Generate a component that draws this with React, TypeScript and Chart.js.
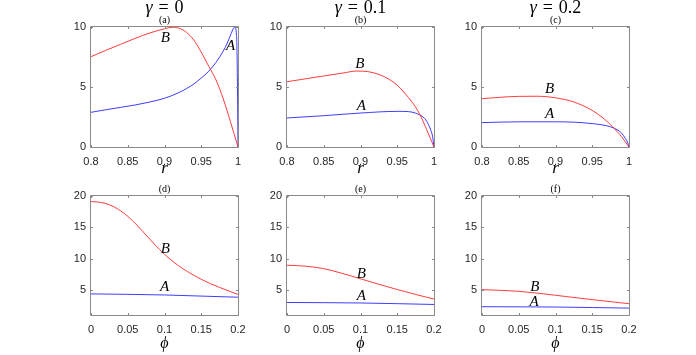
import React, { useEffect, useRef } from "react";
import { Chart, registerables } from "chart.js";
Chart.register(...registerables);

const PAGE_W = 696;
const PAGE_H = 355;

// ---- text / ticks ----
const gammaValues = ["0", "0.1", "0.2"];
const panelLetters = ["(a)", "(b)", "(c)", "(d)", "(e)", "(f)"];
const rTicks = [0.8, 0.85, 0.9, 0.95, 1];
const phiTicks = [0, 0.05, 0.1, 0.15, 0.2];
const rYTicks = [0, 5, 10];
const phiYTicks = [5, 10, 15, 20];

// ---- panel (a): gamma = 0, vs r ----
const aRedX = [0.8, 0.82, 0.84, 0.86, 0.88, 0.9, 0.91, 0.92, 0.93, 0.94, 0.95, 0.96, 0.97, 0.98, 0.99, 1.0];
const aRedY = [7.53, 8.05, 8.55, 9.05, 9.5, 9.85, 9.97, 9.9, 9.55, 8.9, 7.9, 6.75, 5.6, 4.0, 2.05, 0];
const aBlueX = [0.8, 0.82, 0.84, 0.86, 0.88, 0.9, 0.92, 0.94, 0.95, 0.96, 0.97, 0.98, 0.985, 0.99, 0.9955, 0.998, 0.9993, 1.0];
const aBlueY = [2.89, 3.1, 3.3, 3.5, 3.75, 4.06, 4.55, 5.25, 5.75, 6.3, 7.05, 8.0, 8.6, 9.35, 10.0, 9.3, 5.0, 0];

// ---- panel (b): gamma = 0.1, vs r ----
const bRedX = [0.8, 0.825, 0.85, 0.875, 0.895, 0.91, 0.925, 0.94, 0.95, 0.96, 0.97, 0.98, 0.99, 1.0];
const bRedY = [5.44, 5.68, 5.92, 6.15, 6.33, 6.28, 6.05, 5.6, 5.15, 4.5, 3.75, 2.8, 1.45, 0];
const bBlueX = [0.8, 0.85, 0.9, 0.95, 0.965, 0.975, 0.985, 0.99, 0.995, 0.998, 1.0];
const bBlueY = [2.42, 2.61, 2.83, 2.97, 2.95, 2.82, 2.5, 2.15, 1.5, 0.9, 0];

// ---- panel (c): gamma = 0.2, vs r ----
const cRedX = [0.8, 0.85, 0.875, 0.9, 0.925, 0.95, 0.965, 0.975, 0.985, 0.99, 1.0];
const cRedY = [4.03, 4.22, 4.23, 4.1, 3.75, 3.05, 2.4, 1.85, 1.2, 0.85, 0];
const cBlueX = [0.8, 0.85, 0.9, 0.95, 0.975, 0.985, 0.99, 0.995, 0.998, 1.0];
const cBlueY = [2.03, 2.1, 2.1, 1.95, 1.68, 1.4, 1.15, 0.72, 0.4, 0];

// ---- panel (d): gamma = 0, vs phi ----
const dRedX = [0, 0.0125, 0.025, 0.0375, 0.05, 0.0625, 0.075, 0.0875, 0.1, 0.1125, 0.125, 0.1375, 0.15, 0.1625, 0.175, 0.1875, 0.2];
const dRedY = [19.1, 19.0, 18.6, 17.85, 16.75, 15.35, 13.75, 12.15, 10.7, 9.45, 8.4, 7.5, 6.7, 6.0, 5.4, 4.83, 4.28];
const dBlueX = [0, 0.05, 0.1, 0.15, 0.2];
const dBlueY = [4.37, 4.3, 4.2, 4.02, 3.84];

// ---- panel (e): gamma = 0.1, vs phi ----
const eRedX = [0, 0.025, 0.05, 0.075, 0.1, 0.125, 0.15, 0.175, 0.2];
const eRedY = [8.95, 8.8, 8.4, 7.65, 6.78, 5.9, 5.07, 4.28, 3.55];
const eBlueX = [0, 0.1, 0.2];
const eBlueY = [3.0, 2.92, 2.68];

// ---- panel (f): gamma = 0.2, vs phi ----
const fRedX = [0, 0.05, 0.1, 0.15, 0.2];
const fRedY = [5.05, 4.78, 4.15, 3.45, 2.8];
const fBlueX = [0, 0.1, 0.2];
const fBlueY = [2.32, 2.27, 2.1];

// ---- layout ----
const COL_LEFT = [91, 287, 482];
const COL_RIGHT = [238, 434, 629];
const ROW_TOP = [27, 196];
const ROW_BOTTOM = [147, 315];
const Y_AXIS_W = 40;
const X_AXIS_H = 30;

const RED = "#ff1a1a";
const BLUE = "#1a1aff";
const FRAME = "#8a8a8a";
const TICK_TEXT = "#262626";
const SANS = '"Liberation Sans", Arial, Helvetica, sans-serif';
const SERIF = '"Liberation Serif", "DejaVu Serif", "Times New Roman", serif';

type PanelCfg = {
  row: number;
  col: number;
  redX: number[];
  redY: number[];
  blueX: number[];
  blueY: number[];
  labelB: [number, number];
  labelA: [number, number];
};

const panels: PanelCfg[] = [
  { row: 0, col: 0, redX: aRedX, redY: aRedY, blueX: aBlueX, blueY: aBlueY, labelB: [0.901, 9.1], labelA: [0.99, 8.4] },
  { row: 0, col: 1, redX: bRedX, redY: bRedY, blueX: bBlueX, blueY: bBlueY, labelB: [0.899, 6.9], labelA: [0.901, 3.42] },
  { row: 0, col: 2, redX: cRedX, redY: cRedY, blueX: cBlueX, blueY: cBlueY, labelB: [0.892, 4.8], labelA: [0.892, 2.78] },
  { row: 1, col: 0, redX: dRedX, redY: dRedY, blueX: dBlueX, blueY: dBlueY, labelB: [0.101, 11.5], labelA: [0.1, 5.4] },
  { row: 1, col: 1, redX: eRedX, redY: eRedY, blueX: eBlueX, blueY: eBlueY, labelB: [0.101, 7.6], labelA: [0.101, 4.1] },
  { row: 1, col: 2, redX: fRedX, redY: fRedY, blueX: fBlueX, blueY: fBlueY, labelB: [0.072, 5.5], labelA: [0.071, 3.05] },
];

function toPoints(xs: number[], ys: number[]) {
  return xs.map((x, i) => ({ x, y: ys[i] }));
}

function Panel({ cfg, index }: { cfg: PanelCfg; index: number }) {
  const ref = useRef<HTMLCanvasElement>(null);
  useEffect(() => {
    const canvas = ref.current;
    if (!canvas) return;
    const isTop = cfg.row === 0;
    const xTicks = isTop ? rTicks : phiTicks;
    const yTicks = isTop ? rYTicks : phiYTicks;
    const left = COL_LEFT[cfg.col];
    const right = COL_RIGHT[cfg.col];
    const top = ROW_TOP[cfg.row];
    const bottom = ROW_BOTTOM[cfg.row];

    const framePlugin = {
      id: "frame" + index,
      afterDraw(chart: any) {
        const ctx = chart.ctx as CanvasRenderingContext2D;
        const a = chart.chartArea;
        const xs = chart.scales.x;
        const ys = chart.scales.y;
        ctx.save();
        // box
        ctx.strokeStyle = FRAME;
        ctx.lineWidth = 1;
        const L = Math.round(a.left) - 0.5;
        const R = Math.round(a.right) + 0.5;
        const T = Math.round(a.top) - 0.5;
        const B = Math.round(a.bottom) + 0.5;
        ctx.beginPath();
        ctx.rect(L, T, R - L, B - T);
        ctx.stroke();
        // inward ticks
        const tl = 2.5;
        ctx.beginPath();
        xTicks.forEach((v) => {
          const px = Math.round(xs.getPixelForValue(v)) + 0.5;
          ctx.moveTo(px, B);
          ctx.lineTo(px, B - tl);
          ctx.moveTo(px, T);
          ctx.lineTo(px, T + tl);
        });
        yTicks.forEach((v) => {
          const py = Math.round(ys.getPixelForValue(v)) + 0.5;
          ctx.moveTo(L, py);
          ctx.lineTo(L + tl, py);
          ctx.moveTo(R, py);
          ctx.lineTo(R - tl, py);
        });
        ctx.stroke();

        // curve labels
        ctx.fillStyle = "#000";
        ctx.font = "italic 15px " + SERIF;
        ctx.textAlign = "center";
        ctx.textBaseline = "middle";
        ctx.fillText("B", xs.getPixelForValue(cfg.labelB[0]), ys.getPixelForValue(cfg.labelB[1]));
        ctx.fillText("A", xs.getPixelForValue(cfg.labelA[0]), ys.getPixelForValue(cfg.labelA[1]));

        const cx = (a.left + a.right) / 2;
        // panel letter
        ctx.font = "10px " + SERIF;
        ctx.fillText(panelLetters[index], cx, a.top - 6.5);

        // axis label
        ctx.textBaseline = "alphabetic";
        if (isTop) {
          ctx.font = "italic 17px " + SERIF;
          ctx.fillText("r", cx, a.bottom + 26);
        } else {
          ctx.font = "italic 16px " + SERIF;
          ctx.fillText("\u03D5", cx, a.bottom + 33);
        }

        // column title
        if (isTop) {
          const size = 18;
          const gap = size * 0.32;
          ctx.font = "italic " + size + "px " + SERIF;
          const gW = ctx.measureText("\u03B3").width;
          ctx.font = size + "px " + SERIF;
          const eqW = ctx.measureText("=").width;
          const vW = ctx.measureText(gammaValues[cfg.col]).width;
          const total = gW + gap + eqW + gap + vW;
          let x0 = cx - total / 2;
          const base = 13;
          ctx.textAlign = "left";
          ctx.font = "italic " + size + "px " + SERIF;
          ctx.fillText("\u03B3", x0, base);
          x0 += gW + gap;
          ctx.font = size + "px " + SERIF;
          ctx.fillText("=", x0, base);
          x0 += eqW + gap;
          ctx.fillText(gammaValues[cfg.col], x0, base);
        }
        ctx.restore();
      },
    };

    const chart = new Chart(canvas, {
      type: "line",
      data: {
        datasets: [
          {
            data: toPoints(cfg.redX, cfg.redY),
            borderColor: RED,
            borderWidth: 0.85,
            pointRadius: 0,
            fill: false,
            cubicInterpolationMode: "monotone",
          },
          {
            data: toPoints(cfg.blueX, cfg.blueY),
            borderColor: BLUE,
            borderWidth: 0.85,
            pointRadius: 0,
            fill: false,
            cubicInterpolationMode: "monotone",
          },
        ],
      },
      options: {
        responsive: false,
        animation: false,
        devicePixelRatio: 1,
        events: [],
        layout: {
          padding: {
            left: left - Y_AXIS_W,
            top: top,
            right: PAGE_W - right,
            bottom: PAGE_H - bottom - X_AXIS_H,
          },
        },
        plugins: {
          legend: { display: false },
          tooltip: { enabled: false },
          title: { display: false },
        },
        scales: {
          x: {
            type: "linear",
            min: xTicks[0],
            max: xTicks[xTicks.length - 1],
            afterBuildTicks: (s: any) => {
              s.ticks = xTicks.map((v) => ({ value: v }));
            },
            afterFit: (s: any) => {
              s.height = X_AXIS_H;
            },
            grid: { display: false, drawTicks: false },
            border: { display: false },
            ticks: {
              autoSkip: false,
              maxRotation: 0,
              minRotation: 0,
              padding: 8,
              color: TICK_TEXT,
              font: { family: SANS, size: 11 },
              callback: (v: any) => String(Number(v)),
            },
          },
          y: {
            type: "linear",
            min: isTop ? 0 : 1,
            max: isTop ? 10 : 20,
            afterBuildTicks: (s: any) => {
              s.ticks = yTicks.map((v) => ({ value: v }));
            },
            afterFit: (s: any) => {
              s.width = Y_AXIS_W;
            },
            grid: { display: false, drawTicks: false },
            border: { display: false },
            ticks: {
              autoSkip: false,
              padding: 5,
              color: TICK_TEXT,
              font: { family: SANS, size: 11 },
              callback: (v: any) => String(Number(v)),
            },
          },
        },
      } as any,
      plugins: [framePlugin],
    });
    return () => chart.destroy();
  }, []);
  return (
    <canvas
      ref={ref}
      width={PAGE_W}
      height={PAGE_H}
      style={{ position: "absolute", left: 0, top: 0, width: PAGE_W, height: PAGE_H }}
    />
  );
}

export default function App() {
  return (
    <div
      style={{
        position: "absolute",
        left: 0,
        top: 0,
        width: PAGE_W,
        height: PAGE_H,
        background: "#ffffff",
        overflow: "hidden",
      }}
    >
      {panels.map((p, i) => (
        <Panel key={i} cfg={p} index={i} />
      ))}
    </div>
  );
}
